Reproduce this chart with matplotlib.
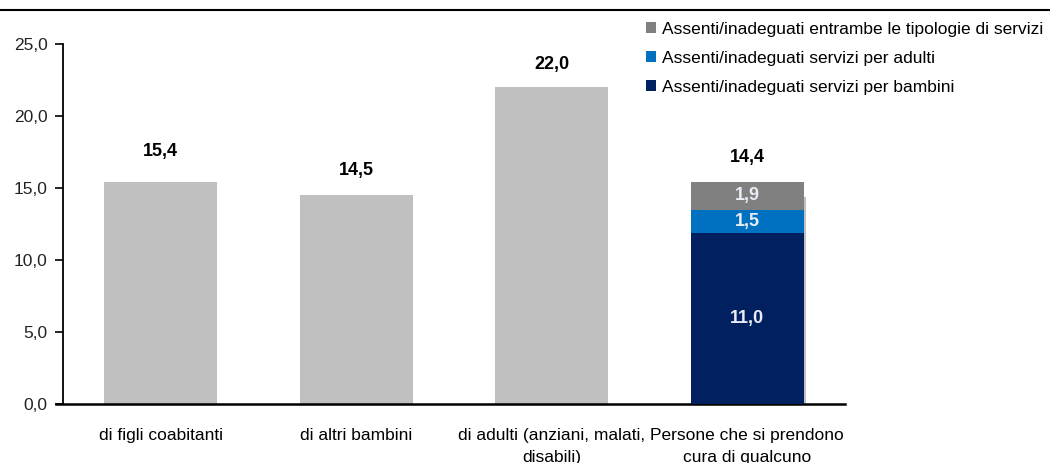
import matplotlib
matplotlib.use("Agg")
import matplotlib.pyplot as plt
from matplotlib.lines import Line2D
from matplotlib.patches import Patch
from matplotlib import font_manager

# ---- data ----
categories = ["di figli coabitanti", "di altri bambini",
              "di adulti (anziani, malati,\ndisabili)",
              "Persone che si prendono\ncura di qualcuno"]
totals = [15.4, 14.5, 22.0, 14.4]
total_labels = ["15,4", "14,5", "22,0", "14,4"]
# stacked components of the last bar (as drawn) and their printed labels
stack_names = ["Assenti/inadeguati servizi per bambini",
               "Assenti/inadeguati servizi per adulti",
               "Assenti/inadeguati entrambe le tipologie di servizi"]
stack_heights = [11.9, 1.6, 1.9]
stack_labels = ["11,0", "1,5", "1,9"]
yticks = [0, 5, 10, 15, 20, 25]
ytick_labels = ["0,0", "5,0", "10,0", "15,0", "20,0", "25,0"]

stack_colors = ["#002060", "#0070C0", "#808080"]
bar_gray = "#C0C0C0"

names = {f.name for f in font_manager.fontManager.ttflist}
fam = "Liberation Sans Narrow" if "Liberation Sans Narrow" in names else "Liberation Sans"
plt.rcParams["font.family"] = [fam, "DejaVu Sans"]

W, H = 1050, 463
fig = plt.figure(figsize=(W / 100, H / 100), dpi=100)
ax = fig.add_axes([63 / W, 1 - 404 / H, (845 - 63) / W, (404 - 44) / H])

x = list(range(len(categories)))
bw = 0.58
# plain bars
ax.bar(x[:3], totals[:3], width=bw, color=bar_gray, zorder=2)
# background total bar for last category
ax.bar(x[3] + 0.012, totals[3], width=bw, color=bar_gray, zorder=1)
# stacked bar
bottom = 0
for h, c, lab in zip(stack_heights, stack_colors, stack_labels):
    ax.bar(x[3], h, width=bw, bottom=bottom, color=c, zorder=3)
    ax.text(x[3], bottom + h / 2, lab, ha="center", va="center",
            color="#E8ECF4", fontsize=13, fontweight="bold", zorder=4)
    bottom += h

# total labels
label_y = [totals[0] + 2.15, totals[1] + 1.75, totals[2] + 1.55, sum(stack_heights) + 1.75]
for xi, yv, lab in zip(x, label_y, total_labels):
    ax.text(xi, yv, lab, ha="center", va="center", fontsize=13,
            fontweight="bold", color="black")

ax.set_xlim(-0.5, 3.5)
ax.set_ylim(0, 25)
ax.set_yticks(yticks)
ax.set_yticklabels(ytick_labels, fontsize=12.5, color="#222222")
ax.set_xticks(x)
ax.set_xticklabels(categories, fontsize=12.5, linespacing=1.6)
ax.tick_params(axis="x", length=0, pad=17)
ax.tick_params(axis="y", length=6, width=1.2, direction="out", pad=5)
for s in ["top", "right"]:
    ax.spines[s].set_visible(False)
ax.spines["left"].set_linewidth(1.3)
ax.spines["bottom"].set_linewidth(1.8)
ax.spines["bottom"].set_bounds(-0.535, 3.5)

# legend
handles = [Patch(facecolor=stack_colors[2]), Patch(facecolor=stack_colors[1]),
           Patch(facecolor=stack_colors[0])]
fig.legend(handles, [stack_names[2], stack_names[1], stack_names[0]],
           loc="upper left", bbox_to_anchor=(639 / W, 1 - 15 / H),
           frameon=False, fontsize=12.5, handlelength=0.6, handleheight=0.6,
           handletextpad=0.35, labelspacing=0.8, borderaxespad=0)

# top rule
fig.add_artist(Line2D([0, 1], [1 - 10 / H, 1 - 10 / H], color="black", lw=1.5,
                      transform=fig.transFigure))

fig.savefig("out.png", dpi=100)
